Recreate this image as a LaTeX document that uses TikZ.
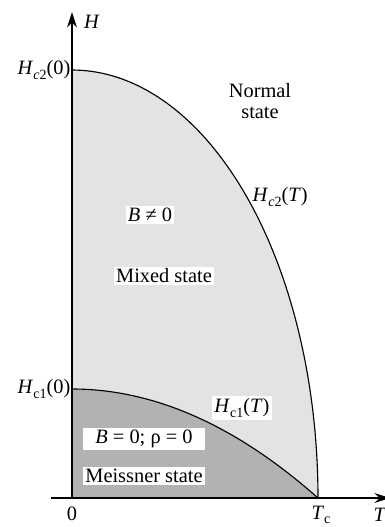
\documentclass[tikz,border=0pt]{standalone}
\usepackage{fontspec}
\newfontfamily\labelfont{Liberation Serif}
\usetikzlibrary{arrows.meta}
\definecolor{mixedgray}{gray}{0.89}
\definecolor{meissgray}{gray}{0.70}
\newcommand{\lowsub}[1]{\raisebox{-0.5ex}{\fontsize{10}{10}\selectfont #1}}

\begin{document}
\begin{tikzpicture}[x=0.025cm, y=-0.025cm, >={Stealth[length=11pt, width=7pt]},
    font=\labelfont\fontsize{14.5}{17}\selectfont,
    lbl/.style={fill=white, inner sep=1.5pt},
    axis/.style={line width=1.4pt},
    curve/.style={line width=0.8pt}]
    \useasboundingbox (0,0) rectangle (384,527);
    \coordinate (O) at (72,498);
    \coordinate (hc2) at (72,70);
    \coordinate (hc1) at (72,389);
    \coordinate (tc) at (318,498);
    \coordinate (htop) at (72,12);
    \coordinate (tleft) at (51,498);
    \coordinate (tright) at (390,498);

    \fill[mixedgray] (O) -- (hc2) -- plot[domain=90:0, samples=80] ({72+246*cos(\x)}, {498-428*sin(\x)}) -- cycle;
    \fill[meissgray] (O) -- (hc1) -- plot[domain=0:1, samples=50] ({72+246*\x}, {498-109*(1-\x*\x)}) -- cycle;
    \draw[curve] plot[domain=90:0, samples=80] ({72+246*cos(\x)}, {498-428*sin(\x)});
    \draw[curve] plot[domain=0:1, samples=50] ({72+246*\x}, {498-109*(1-\x*\x)});
    \draw[axis, ->] (O) -- (htop);
    \draw[axis, ->] (tleft) -- (tright);

    \node (hlbl) at (92,22) {\textit{H}};
    \node (tlbl) at (380,515) {\textit{T}};
    \node (zero) at (72,514) {0};
    \node (tclbl) at (321,515) {\textit{T}\lowsub{c}};
    \node (hc2lbl) [left, inner sep=1pt] at (hc2) {\textit{H}\lowsub{\textit{c}2}(0)};
    \node (hc1lbl) [left, inner sep=1pt] at (hc1) {\textit{H}\lowsub{c1}(0)};
    \node (normal) [align=center, inner sep=1pt, font=\labelfont\fontsize{14.5}{15}\selectfont] at (260,101) {Normal\\ state};
    \node (hc2t) [right, inner sep=1pt] at (251,197) {\textit{H}\lowsub{\textit{c}2}(\textit{T})};
    \node (bne) [lbl] at (150,215) {\textit{B} ≠ 0};
    \node (mixed) [lbl] at (164,276) {Mixed state};
    \node (hc1t) [lbl] at (242,408) {\textit{H}\lowsub{c1}(\textit{T})};
    \node (beq) [lbl, minimum width=3.05cm] at (144,439) {\textit{B} = 0; ρ = 0};
    \node (meiss) [lbl, minimum width=3.05cm] at (144,476) {Meissner state};
\end{tikzpicture}
\end{document}
